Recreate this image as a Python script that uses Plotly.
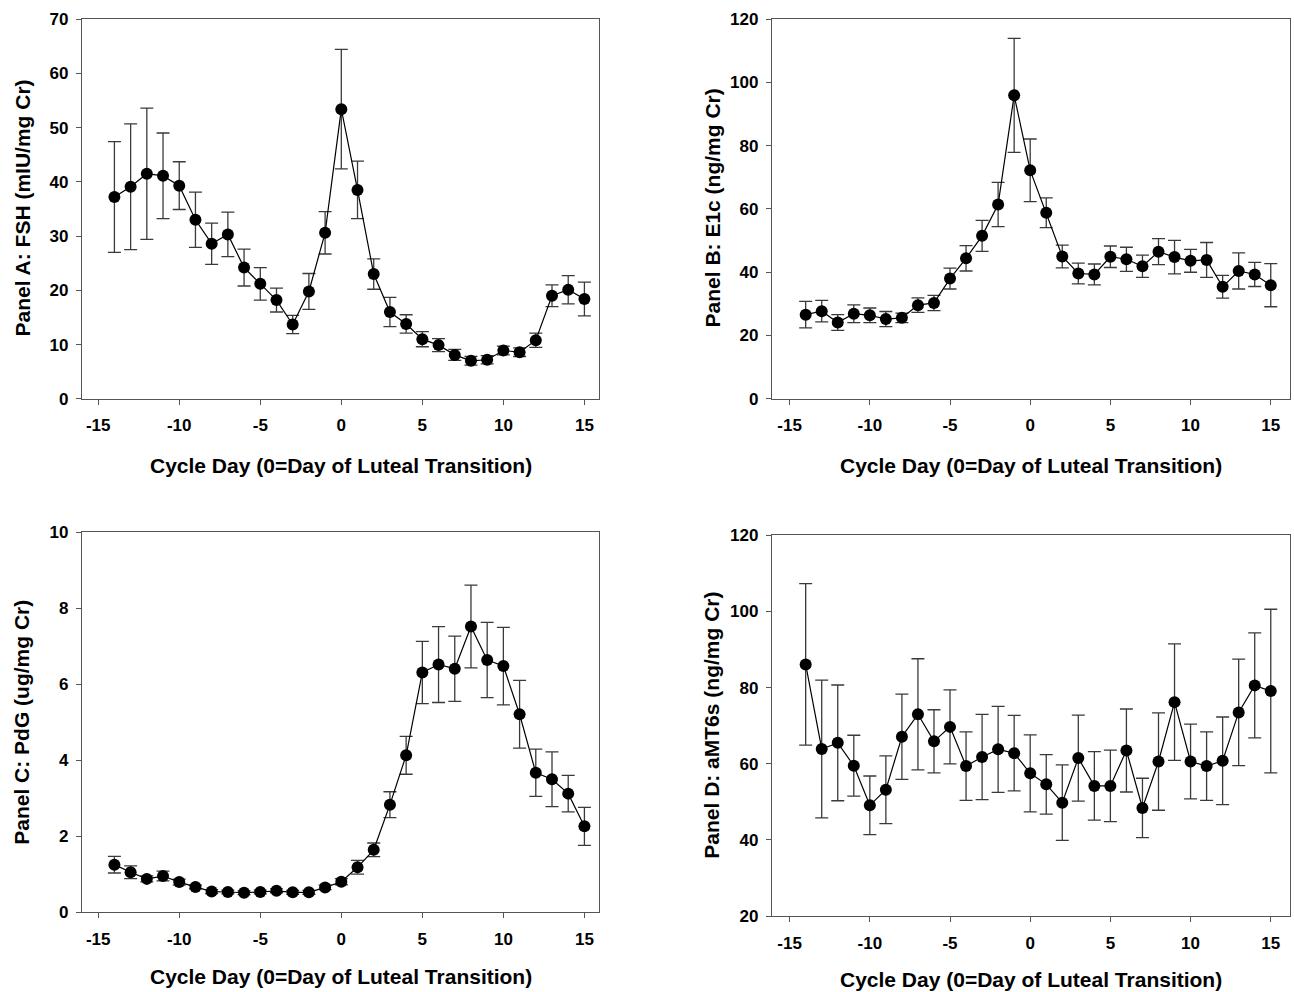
import plotly.graph_objects as go

days = list(range(-14, 16))

fsh = [37.2, 39.1, 41.5, 41.1, 39.3, 33.0, 28.6, 30.3, 24.2, 21.2, 18.2, 13.7, 19.8, 30.6, 53.4,
       38.5, 23.0, 16.0, 13.8, 11.0, 9.9, 8.1, 7.0, 7.2, 8.9, 8.6, 10.8, 19.0, 20.1, 18.4]
fsh_err = [10.2, 11.6, 12.1, 7.9, 4.4, 5.1, 3.8, 4.1, 3.4, 3.0, 2.2, 1.7, 3.3, 3.9, 11.0,
           5.3, 2.8, 2.7, 1.7, 1.4, 1.2, 1.0, 0.8, 0.75, 0.8, 0.8, 1.3, 2.0, 2.6, 3.1]

e1c = [26.6, 27.7, 24.1, 26.9, 26.4, 25.2, 25.6, 29.6, 30.3, 38.0, 44.4, 51.5, 61.4, 95.9, 72.2,
       58.8, 45.0, 39.6, 39.3, 44.9, 44.1, 41.9, 46.5, 44.8, 43.6, 43.9, 35.4, 40.4, 39.3, 35.9]
e1c_err = [4.2, 3.4, 2.5, 2.8, 2.3, 2.4, 1.5, 2.3, 2.4, 3.3, 4.0, 4.9, 7.0, 18.0, 9.9,
           4.7, 3.6, 3.3, 3.3, 3.4, 3.8, 3.5, 4.1, 5.3, 3.6, 5.5, 3.6, 5.7, 3.8, 6.8]

pdg = [1.25, 1.05, 0.875, 0.95, 0.79, 0.66, 0.54, 0.53, 0.51, 0.53, 0.56, 0.52, 0.52, 0.65, 0.80,
       1.18, 1.64, 2.83, 4.13, 6.31, 6.52, 6.41, 7.52, 6.64, 6.48, 5.21, 3.67, 3.50, 3.12, 2.26]
pdg_err = [0.22, 0.17, 0.08, 0.13, 0.08, 0.05, 0.05, 0.05, 0.05, 0.05, 0.05, 0.05, 0.05, 0.06, 0.08,
           0.18, 0.18, 0.34, 0.5, 0.82, 1.0, 0.86, 1.09, 0.99, 1.02, 0.89, 0.62, 0.72, 0.48, 0.5]

amt6s = [86.1, 63.9, 65.5, 59.5, 49.1, 53.2, 67.1, 73.0, 65.9, 69.7, 59.4, 61.8, 63.8, 62.8, 57.5,
         54.6, 49.8, 61.5, 54.2, 54.2, 63.5, 48.4, 60.6, 76.2, 60.6, 59.4, 60.8, 73.5, 80.6, 79.1]
amt6s_err = [21.2, 18.1, 15.2, 8.0, 7.7, 8.9, 11.2, 14.6, 8.3, 9.7, 9.0, 11.2, 11.3, 9.9, 10.1,
             7.8, 9.9, 11.3, 9.0, 9.4, 10.9, 7.8, 12.8, 15.3, 9.8, 9.0, 11.5, 14.0, 13.8, 21.5]

x_ticks = [-15, -10, -5, 0, 5, 10, 15]
x_ticktext = ["-15", "-10", "-5", "0", "5", "10", "15"]
x_title = "Cycle Day (0=Day of Luteal Transition)"
y_titles = ["Panel A: FSH (mIU/mg Cr)", "Panel B: E1c (ng/mg Cr)",
            "Panel C: PdG (ug/mg Cr)", "Panel D: aMT6s (ng/mg Cr)"]

W, H = 1294, 992
FONT = "Arial, Liberation Sans, sans-serif"


def py(r):
    # vertical pixel compensation for the capture
    return r * 1008 / 992 - 8


panels = [
    # values, errors, y range, y dtick, x px range, y px range (top, bottom), x range, x-title y, y-title y
    (fsh, fsh_err, [0, 70], 10, (82, 599), (18, 399), [-16.0, 15.9], 466, 208),
    (e1c, e1c_err, [0, 120], 20, (772, 1290), (18, 399), [-16.1, 16.2], 466, 208),
    (pdg, pdg_err, [0, 10], 2, (82, 599), (533, 914), [-16.0, 15.9], 979, 724),
    (amt6s, amt6s_err, [20, 120], 20, (772, 1290), (536, 918), [-16.1, 16.2], 982, 727),
]

fig = go.Figure()
annotations = []
for i, (vals, errs, yr, dt, (x0, x1), (y0, y1), xr, xty, yty) in enumerate(panels):
    n = "" if i == 0 else str(i + 1)
    fig.add_trace(go.Scatter(
        x=days, y=vals, mode="lines+markers",
        xaxis="x" + n, yaxis="y" + n,
        line=dict(color="black", width=1.2),
        marker=dict(color="black", size=12),
        error_y=dict(type="data", array=errs, visible=True, color="#3a3a3a",
                     thickness=1.3, width=6.5),
        showlegend=False,
    ))
    axis_common = dict(showline=True, linecolor="#555", linewidth=1.3, mirror=True,
                       showgrid=False, zeroline=False, ticks="outside", ticklen=5,
                       tickcolor="#555", tickwidth=1.3,
                       tickfont=dict(family=FONT, size=17, color="black", weight="bold"))
    fig.update_layout({
        "xaxis" + n: dict(domain=[x0 / W, x1 / W], range=xr, tickvals=x_ticks,
                          ticktext=x_ticktext, ticklabelstandoff=6,
                          anchor="y" + n, **axis_common),
        "yaxis" + n: dict(domain=[1 - py(y1) / H, 1 - py(y0) / H], range=yr, dtick=dt,
                          ticklabelstandoff=4,
                          anchor="x" + n, **axis_common),
    })
    cx = (x0 + x1) / 2
    annotations.append(dict(text=x_title, xref="paper", yref="paper",
                            x=cx / W, y=1 - py(xty) / H, showarrow=False,
                            xanchor="center", yanchor="middle",
                            font=dict(family=FONT, size=21, color="black", weight="bold")))
    annotations.append(dict(text=y_titles[i], xref="paper", yref="paper",
                            x=(x0 - 60) / W, y=1 - py(yty) / H, showarrow=False,
                            textangle=-90, xanchor="center", yanchor="middle",
                            font=dict(family=FONT, size=21, color="black", weight="bold")))

fig.update_layout(width=W, height=H, margin=dict(l=0, r=0, t=0, b=0),
                  plot_bgcolor="white", paper_bgcolor="white",
                  annotations=annotations)

fig.write_html("out.html", config={"displayModeBar": False},
               post_script="document.body.style.margin='0';document.body.style.overflow='hidden';")
